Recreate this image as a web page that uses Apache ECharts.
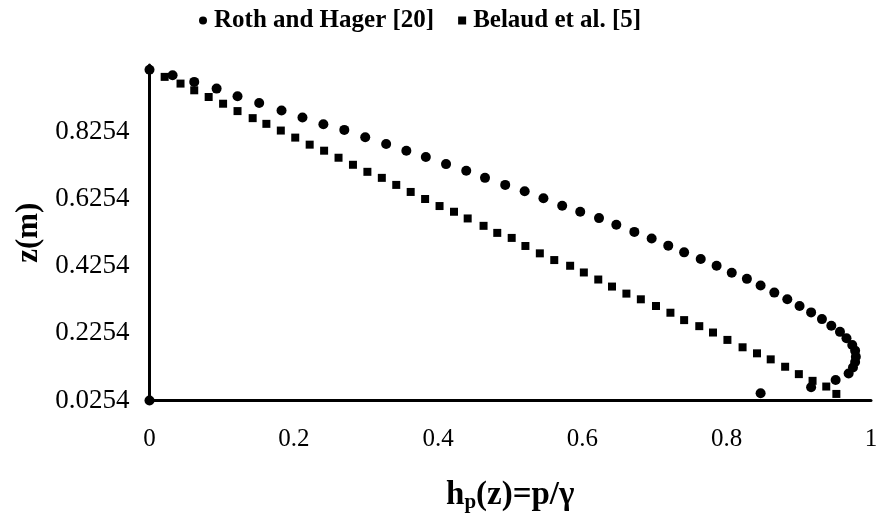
<!DOCTYPE html>
<html>
<head>
<meta charset="utf-8">
<script src="https://cdn.jsdelivr.net/npm/echarts@6/dist/echarts.min.js"></script>
<style>
  html, body { margin: 0; padding: 0; background: #fff; }
  #chart { width: 877px; height: 514px; }
</style>
</head>
<body>
<div id="chart"></div>
<script>
// Pressure head profile h_p(z) = p/γ versus height z
const seriesNames = ['Roth and Hager [20]', 'Belaud et al. [5]'];

// Roth and Hager [20]: pressure head values
const rothHp = [0, 0.032, 0.062, 0.093, 0.122, 0.152, 0.183, 0.212, 0.241, 0.270,
  0.299, 0.328, 0.356, 0.383, 0.411, 0.439, 0.465, 0.493, 0.520, 0.546,
  0.572, 0.597, 0.623, 0.647, 0.672, 0.696, 0.719, 0.741, 0.764, 0.786,
  0.807, 0.828, 0.847, 0.866, 0.884, 0.901, 0.917, 0.932, 0.945, 0.957,
  0.966, 0.974, 0.978, 0.979, 0.978, 0.975, 0.969, 0.951, 0.917, 0.847, 0];
// Roth and Hager [20]: heights z (m)
const rothZ = [1.011, 0.995, 0.975, 0.955, 0.932, 0.912, 0.890, 0.869, 0.849, 0.832,
  0.810, 0.790, 0.770, 0.751, 0.730, 0.710, 0.689, 0.668, 0.649, 0.628,
  0.606, 0.588, 0.569, 0.549, 0.528, 0.508, 0.487, 0.467, 0.447, 0.427,
  0.406, 0.388, 0.368, 0.347, 0.327, 0.307, 0.288, 0.268, 0.248, 0.230,
  0.211, 0.191, 0.174, 0.156, 0.140, 0.124, 0.106, 0.0865, 0.065, 0.047, 0.0254];

// Belaud et al. [5]: pressure head values
const belaudHp = [0.021, 0.043, 0.062, 0.082, 0.102, 0.122, 0.143, 0.162, 0.182, 0.202,
  0.222, 0.242, 0.262, 0.282, 0.302, 0.322, 0.342, 0.362, 0.382, 0.402,
  0.422, 0.441, 0.463, 0.482, 0.502, 0.521, 0.541, 0.561, 0.583, 0.602,
  0.622, 0.641, 0.661, 0.681, 0.702, 0.722, 0.741, 0.762, 0.781, 0.801,
  0.822, 0.842, 0.861, 0.881, 0.900, 0.919, 0.938, 0.952];
// Belaud et al. [5]: heights z (m)
const belaudZ = [0.990, 0.970, 0.950, 0.930, 0.910, 0.888, 0.867, 0.850, 0.830, 0.809,
  0.788, 0.770, 0.749, 0.728, 0.707, 0.689, 0.668, 0.647, 0.626, 0.605,
  0.588, 0.568, 0.546, 0.525, 0.510, 0.486, 0.464, 0.444, 0.427, 0.407,
  0.386, 0.365, 0.344, 0.327, 0.307, 0.287, 0.265, 0.247, 0.228, 0.206,
  0.184, 0.166, 0.148, 0.126, 0.104, 0.084, 0.067, 0.045];

// Axis ticks
const xTicks = [0, 0.2, 0.4, 0.6, 0.8, 1];
const zTicks = [0.0254, 0.2254, 0.4254, 0.6254, 0.8254];
const zMin = 0.0254;
const zMax = 1.0254;

const pairs = (xs, ys) => xs.map((x, i) => [x, ys[i]]);

const serif = 'Liberation Serif';
const chart = echarts.init(document.getElementById('chart'), null, { renderer: 'canvas' });

chart.setOption({
  animation: false,
  backgroundColor: '#ffffff',
  legend: {
    left: 194,
    top: 3,
    itemGap: 24,
    itemWidth: 8,
    itemHeight: 8,
    textStyle: { fontFamily: serif, fontWeight: 'bold', fontSize: 25, color: '#000', padding: [0, 0, 0, 2] },
    data: [
      { name: seriesNames[0], icon: 'circle' },
      { name: seriesNames[1], icon: 'rect' }
    ]
  },
  grid: {
    left: 149.5, right: 6, top: 65, bottom: 113.5,
    containLabel: false,
    outerBoundsMode: 'none'
  },
  xAxis: {
    type: 'value',
    min: 0,
    max: 1,
    interval: 0.2,
    axisLine: { show: true, onZero: false, lineStyle: { color: '#000', width: 3 } },
    axisTick: { show: false },
    splitLine: { show: false },
    axisLabel: {
      color: '#000', fontFamily: serif, fontSize: 25, margin: 26,
      customValues: xTicks,
      formatter: v => String(v)
    },
    name: '{h|h}{s|p}{h|(z)=p/γ}',
    nameLocation: 'middle',
    nameGap: 76,
    nameTextStyle: {
      rich: {
        h: { fontFamily: serif, fontWeight: 'bold', fontSize: 33, color: '#000' },
        s: { fontFamily: serif, fontWeight: 'bold', fontSize: 21, color: '#000', padding: [16, 0, 0, 0] }
      }
    }
  },
  yAxis: {
    type: 'value',
    min: zMin,
    max: zMax,
    axisLine: { show: true, onZero: false, lineStyle: { color: '#000', width: 3 } },
    axisTick: { show: false },
    splitLine: { show: false },
    axisLabel: {
      color: '#000', fontFamily: serif, fontSize: 27, margin: 20,
      customValues: zTicks,
      formatter: v => v.toFixed(4)
    },
    name: 'z(m)',
    nameLocation: 'middle',
    nameGap: 94,
    nameTextStyle: { fontFamily: serif, fontWeight: 'bold', fontSize: 31, color: '#000' }
  },
  series: [
    {
      name: seriesNames[0],
      type: 'scatter',
      symbol: 'circle',
      symbolSize: 10,
      clip: false,
      itemStyle: { color: '#000', opacity: 1 },
      data: pairs(rothHp, rothZ)
    },
    {
      name: seriesNames[1],
      type: 'scatter',
      symbol: 'rect',
      symbolSize: 8,
      clip: false,
      itemStyle: { color: '#000', opacity: 1 },
      data: pairs(belaudHp, belaudZ)
    }
  ]
});
</script>
</body>
</html>
